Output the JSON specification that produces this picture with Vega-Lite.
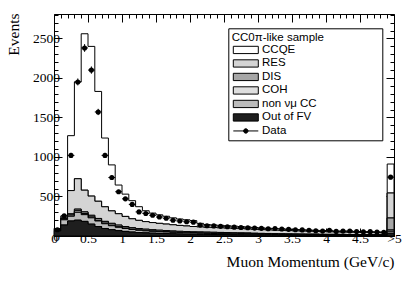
{
  "$schema": "https://vega.github.io/schema/vega-lite/v6.json",
  "width": 340,
  "height": 222,
  "autosize": {"type": "none"},
  "padding": {"left": 54, "top": 14, "right": 21, "bottom": 45},
  "background": "white",
  "config": {
    "view": {"stroke": "black", "strokeWidth": 1},
    "style": {"guide-label": {"font": "Liberation Serif", "fontSize": 13.5, "fill": "black"}},
    "axis": {
      "domain": false, "grid": false, "tickColor": "black", "tickWidth": 1,
      "titleFont": "Liberation Serif", "titleFontWeight": "normal", "titleColor": "black", "titleFontSize": 15.5,
      "labelFlush": false, "labelOverlap": false, "zindex": 1
    },
    "legend": {
      "orient": "none", "legendX": 174.3, "legendY": 14.3, "padding": 3.4,
      "strokeColor": "black", "fillColor": "white",
      "titleFont": "Liberation Sans", "titleFontSize": 11.5, "titleFontWeight": "normal", "titleColor": "black", "titlePadding": 1, "titleLimit": 400,
      "labelFont": "Liberation Sans", "labelFontSize": 11.5, "labelColor": "black",
      "symbolSize": 49, "symbolOffset": 8.35, "labelOffset": 10.5, "rowPadding": 0.5,
      "symbolStrokeColor": "black", "symbolStrokeWidth": 1, "symbolOpacity": 1
    }
  },
  "datasets": {
    "mc": [
      {"p": 0.0, "CCQE": 13, "RES": 5, "DIS": 2, "COH": 0, "non νμ CC": 10, "Out of FV": 65},
      {"p": 0.1, "CCQE": 25, "RES": 8, "DIS": 10, "COH": 5, "non νμ CC": 66, "Out of FV": 139},
      {"p": 0.2, "CCQE": 695, "RES": 295, "DIS": 15, "COH": 15, "non νμ CC": 60, "Out of FV": 190},
      {"p": 0.3, "CCQE": 1225, "RES": 385, "DIS": 20, "COH": 20, "non νμ CC": 100, "Out of FV": 200},
      {"p": 0.4, "CCQE": 1980, "RES": 275, "DIS": 20, "COH": 15, "non νμ CC": 85, "Out of FV": 185},
      {"p": 0.5, "CCQE": 1895, "RES": 243, "DIS": 22, "COH": 10, "non νμ CC": 80, "Out of FV": 150},
      {"p": 0.6, "CCQE": 1390, "RES": 218, "DIS": 24, "COH": 8, "non νμ CC": 70, "Out of FV": 120},
      {"p": 0.7, "CCQE": 870, "RES": 185, "DIS": 23, "COH": 7, "non νμ CC": 60, "Out of FV": 95},
      {"p": 0.8, "CCQE": 582, "RES": 158, "DIS": 24, "COH": 6, "non νμ CC": 50, "Out of FV": 80},
      {"p": 0.9, "CCQE": 363, "RES": 144, "DIS": 23, "COH": 5, "non νμ CC": 42, "Out of FV": 68},
      {"p": 1.0, "CCQE": 282, "RES": 128, "DIS": 21, "COH": 4, "non νμ CC": 37, "Out of FV": 58},
      {"p": 1.1, "CCQE": 229, "RES": 113, "DIS": 19, "COH": 4, "non νμ CC": 32, "Out of FV": 50},
      {"p": 1.2, "CCQE": 173, "RES": 104, "DIS": 19, "COH": 3, "non νμ CC": 28, "Out of FV": 44},
      {"p": 1.3, "CCQE": 138, "RES": 96, "DIS": 18, "COH": 3, "non νμ CC": 25, "Out of FV": 40},
      {"p": 1.4, "CCQE": 120, "RES": 91, "DIS": 17, "COH": 3, "non νμ CC": 23, "Out of FV": 36},
      {"p": 1.5, "CCQE": 108, "RES": 87, "DIS": 16, "COH": 3, "non νμ CC": 21, "Out of FV": 33},
      {"p": 1.6, "CCQE": 99, "RES": 83, "DIS": 16, "COH": 2, "non νμ CC": 20, "Out of FV": 30},
      {"p": 1.7, "CCQE": 88, "RES": 79, "DIS": 15, "COH": 2, "non νμ CC": 18, "Out of FV": 28},
      {"p": 1.8, "CCQE": 81, "RES": 75, "DIS": 14, "COH": 2, "non νμ CC": 17, "Out of FV": 26},
      {"p": 1.9, "CCQE": 78, "RES": 71, "DIS": 14, "COH": 2, "non νμ CC": 16, "Out of FV": 24},
      {"p": 2.0, "CCQE": 75, "RES": 67, "DIS": 14, "COH": 2, "non νμ CC": 15, "Out of FV": 22},
      {"p": 2.1, "CCQE": 45, "RES": 64, "DIS": 14, "COH": 2, "non νμ CC": 14, "Out of FV": 21},
      {"p": 2.2, "CCQE": 35, "RES": 61, "DIS": 14, "COH": 2, "non νμ CC": 13, "Out of FV": 20},
      {"p": 2.3, "CCQE": 33, "RES": 60, "DIS": 13, "COH": 2, "non νμ CC": 13, "Out of FV": 19},
      {"p": 2.4, "CCQE": 32, "RES": 58, "DIS": 13, "COH": 2, "non νμ CC": 12, "Out of FV": 18},
      {"p": 2.5, "CCQE": 30, "RES": 56, "DIS": 13, "COH": 2, "non νμ CC": 12, "Out of FV": 17},
      {"p": 2.6, "CCQE": 29, "RES": 55, "DIS": 12, "COH": 2, "non νμ CC": 11, "Out of FV": 16},
      {"p": 2.7, "CCQE": 27, "RES": 53, "DIS": 12, "COH": 2, "non νμ CC": 11, "Out of FV": 15},
      {"p": 2.8, "CCQE": 25, "RES": 51, "DIS": 12, "COH": 2, "non νμ CC": 10, "Out of FV": 14},
      {"p": 2.9, "CCQE": 24, "RES": 49, "DIS": 11, "COH": 1, "non νμ CC": 10, "Out of FV": 13},
      {"p": 3.0, "CCQE": 23, "RES": 47, "DIS": 11, "COH": 1, "non νμ CC": 9, "Out of FV": 12},
      {"p": 3.1, "CCQE": 21, "RES": 45, "DIS": 11, "COH": 1, "non νμ CC": 9, "Out of FV": 11},
      {"p": 3.2, "CCQE": 20, "RES": 44, "DIS": 10, "COH": 1, "non νμ CC": 8, "Out of FV": 11},
      {"p": 3.3, "CCQE": 19, "RES": 42, "DIS": 10, "COH": 1, "non νμ CC": 8, "Out of FV": 10},
      {"p": 3.4, "CCQE": 18, "RES": 40, "DIS": 10, "COH": 1, "non νμ CC": 7, "Out of FV": 10},
      {"p": 3.5, "CCQE": 17, "RES": 39, "DIS": 9, "COH": 1, "non νμ CC": 7, "Out of FV": 9},
      {"p": 3.6, "CCQE": 16, "RES": 37, "DIS": 9, "COH": 1, "non νμ CC": 6, "Out of FV": 9},
      {"p": 3.7, "CCQE": 15, "RES": 36, "DIS": 9, "COH": 1, "non νμ CC": 6, "Out of FV": 8},
      {"p": 3.8, "CCQE": 14, "RES": 34, "DIS": 9, "COH": 1, "non νμ CC": 6, "Out of FV": 8},
      {"p": 3.9, "CCQE": 14, "RES": 34, "DIS": 8, "COH": 1, "non νμ CC": 5, "Out of FV": 7},
      {"p": 4.0, "CCQE": 13, "RES": 32, "DIS": 8, "COH": 1, "non νμ CC": 5, "Out of FV": 7},
      {"p": 4.1, "CCQE": 12, "RES": 30, "DIS": 8, "COH": 1, "non νμ CC": 5, "Out of FV": 7},
      {"p": 4.2, "CCQE": 12, "RES": 29, "DIS": 8, "COH": 1, "non νμ CC": 5, "Out of FV": 6},
      {"p": 4.3, "CCQE": 12, "RES": 29, "DIS": 7, "COH": 1, "non νμ CC": 4, "Out of FV": 6},
      {"p": 4.4, "CCQE": 11, "RES": 28, "DIS": 7, "COH": 1, "non νμ CC": 4, "Out of FV": 6},
      {"p": 4.5, "CCQE": 10, "RES": 27, "DIS": 7, "COH": 1, "non νμ CC": 4, "Out of FV": 6},
      {"p": 4.6, "CCQE": 10, "RES": 26, "DIS": 7, "COH": 1, "non νμ CC": 4, "Out of FV": 5},
      {"p": 4.7, "CCQE": 9, "RES": 25, "DIS": 7, "COH": 1, "non νμ CC": 4, "Out of FV": 5},
      {"p": 4.8, "CCQE": 9, "RES": 24, "DIS": 6, "COH": 1, "non νμ CC": 4, "Out of FV": 5},
      {"p": 4.9, "CCQE": 367, "RES": 316, "DIS": 152, "COH": 16, "non νμ CC": 25, "Out of FV": 35},
      {"p": 5.0, "CCQE": 367, "RES": 316, "DIS": 152, "COH": 16, "non νμ CC": 25, "Out of FV": 35}
    ],
    "obs": [
      {"p": 0.05, "lo": 0.0, "hi": 0.1, "n": 80, "err": 9},
      {"p": 0.15, "lo": 0.1, "hi": 0.2, "n": 255, "err": 16},
      {"p": 0.25, "lo": 0.2, "hi": 0.3, "n": 1020, "err": 32},
      {"p": 0.35, "lo": 0.3, "hi": 0.4, "n": 1950, "err": 44},
      {"p": 0.45, "lo": 0.4, "hi": 0.5, "n": 2380, "err": 49},
      {"p": 0.55, "lo": 0.5, "hi": 0.6, "n": 2100, "err": 46},
      {"p": 0.65, "lo": 0.6, "hi": 0.7, "n": 1570, "err": 40},
      {"p": 0.75, "lo": 0.7, "hi": 0.8, "n": 1020, "err": 32},
      {"p": 0.85, "lo": 0.8, "hi": 0.9, "n": 740, "err": 27},
      {"p": 0.95, "lo": 0.9, "hi": 1.0, "n": 560, "err": 24},
      {"p": 1.05, "lo": 1.0, "hi": 1.1, "n": 470, "err": 22},
      {"p": 1.15, "lo": 1.1, "hi": 1.2, "n": 400, "err": 20},
      {"p": 1.25, "lo": 1.2, "hi": 1.3, "n": 305, "err": 17},
      {"p": 1.35, "lo": 1.3, "hi": 1.4, "n": 285, "err": 17},
      {"p": 1.45, "lo": 1.4, "hi": 1.5, "n": 262, "err": 16},
      {"p": 1.55, "lo": 1.5, "hi": 1.6, "n": 240, "err": 15},
      {"p": 1.65, "lo": 1.6, "hi": 1.7, "n": 225, "err": 15},
      {"p": 1.75, "lo": 1.7, "hi": 1.8, "n": 200, "err": 14},
      {"p": 1.85, "lo": 1.8, "hi": 1.9, "n": 190, "err": 14},
      {"p": 1.95, "lo": 1.9, "hi": 2.0, "n": 180, "err": 13},
      {"p": 2.05, "lo": 2.0, "hi": 2.1, "n": 175, "err": 13},
      {"p": 2.15, "lo": 2.1, "hi": 2.2, "n": 138, "err": 12},
      {"p": 2.25, "lo": 2.2, "hi": 2.3, "n": 130, "err": 11},
      {"p": 2.35, "lo": 2.3, "hi": 2.4, "n": 128, "err": 11},
      {"p": 2.45, "lo": 2.4, "hi": 2.5, "n": 122, "err": 11},
      {"p": 2.55, "lo": 2.5, "hi": 2.6, "n": 118, "err": 11},
      {"p": 2.65, "lo": 2.6, "hi": 2.7, "n": 112, "err": 11},
      {"p": 2.75, "lo": 2.7, "hi": 2.8, "n": 108, "err": 10},
      {"p": 2.85, "lo": 2.8, "hi": 2.9, "n": 104, "err": 10},
      {"p": 2.95, "lo": 2.9, "hi": 3.0, "n": 100, "err": 10},
      {"p": 3.05, "lo": 3.0, "hi": 3.1, "n": 97, "err": 10},
      {"p": 3.15, "lo": 3.1, "hi": 3.2, "n": 92, "err": 10},
      {"p": 3.25, "lo": 3.2, "hi": 3.3, "n": 95, "err": 10},
      {"p": 3.35, "lo": 3.3, "hi": 3.4, "n": 88, "err": 9},
      {"p": 3.45, "lo": 3.4, "hi": 3.5, "n": 84, "err": 9},
      {"p": 3.55, "lo": 3.5, "hi": 3.6, "n": 80, "err": 9},
      {"p": 3.65, "lo": 3.6, "hi": 3.7, "n": 77, "err": 9},
      {"p": 3.75, "lo": 3.7, "hi": 3.8, "n": 72, "err": 8},
      {"p": 3.85, "lo": 3.8, "hi": 3.9, "n": 66, "err": 8},
      {"p": 3.95, "lo": 3.9, "hi": 4.0, "n": 62, "err": 8},
      {"p": 4.05, "lo": 4.0, "hi": 4.1, "n": 72, "err": 8},
      {"p": 4.15, "lo": 4.1, "hi": 4.2, "n": 58, "err": 8},
      {"p": 4.25, "lo": 4.2, "hi": 4.3, "n": 62, "err": 8},
      {"p": 4.35, "lo": 4.3, "hi": 4.4, "n": 64, "err": 8},
      {"p": 4.45, "lo": 4.4, "hi": 4.5, "n": 57, "err": 8},
      {"p": 4.55, "lo": 4.5, "hi": 4.6, "n": 52, "err": 7},
      {"p": 4.65, "lo": 4.6, "hi": 4.7, "n": 55, "err": 7},
      {"p": 4.75, "lo": 4.7, "hi": 4.8, "n": 50, "err": 7},
      {"p": 4.85, "lo": 4.8, "hi": 4.9, "n": 48, "err": 7},
      {"p": 4.95, "lo": 4.9, "hi": 5.0, "n": 745, "err": 27}
    ]
  },
  "layer": [
    {
      "data": {"name": "mc"},
      "transform": [
        {"fold": ["CCQE", "RES", "DIS", "COH", "non νμ CC", "Out of FV"], "as": ["comp", "count"]},
        {"calculate": "indexof(['Out of FV','non νμ CC','COH','DIS','RES','CCQE'], datum.comp)", "as": "ord"}
      ],
      "mark": {"type": "area", "interpolate": "step-after", "stroke": "black", "strokeWidth": 1},
      "encoding": {
        "x": {"field": "p", "type": "quantitative",
          "scale": {"domain": [0, 5], "nice": false, "zero": false},
          "axis": {"orient": "bottom", "values": [0, 0.5, 1, 1.5, 2, 2.5, 3, 3.5, 4, 4.5, 5], "tickSize": -8, "labelPadding": 3,
            "labelFont": "Liberation Serif", "labelFontSize": 13.5, "labelColor": "black",
            "labelExpr": "datum.value === 5 ? '>5' : format(datum.value, '~g')",
            "title": "Muon Momentum (GeV/c)", "titleFont": "Liberation Serif", "titleFontSize": 15.5, "titleFontWeight": "normal",
            "titleX": 340, "titleY": 30, "titleAlign": "right", "titleBaseline": "alphabetic"}},
        "y": {"field": "count", "type": "quantitative", "stack": "zero",
          "scale": {"domain": [0, 2810], "nice": false, "zero": false},
          "axis": {"orient": "left", "values": [0, 500, 1000, 1500, 2000, 2500], "tickSize": -8, "labelPadding": 2.5, "format": "d",
            "labelFont": "Liberation Serif", "labelFontSize": 13.5, "labelColor": "black",
            "title": "Events", "titleFont": "Liberation Serif", "titleFontWeight": "normal",
            "titleX": -41, "titleY": -1, "titleAlign": "right", "titleAngle": -90, "titleBaseline": "middle", "titleFontSize": 15.5}},
        "fill": {"field": "comp", "type": "nominal",
          "scale": {"domain": ["CCQE", "RES", "DIS", "COH", "non νμ CC", "Out of FV", "Data"],
            "range": ["#ffffff", "#d4d4d4", "#a6a6a6", "#dedede", "#bbbbbb", "#1e1e1e", "#000000"]},
          "legend": {
            "title": "CC0π-like sample\u2800\u2800\u2800\u2800\u2800\u2800",
            "labelFont": "Liberation Sans", "labelFontSize": 11.5,
            "symbolType": "M-3.571,-1.04H3.571V1.04H-3.571Z",
            "encode": {"symbols": {"update": {"shape": {"signal": "datum.value === 'Data' ? 'M-3.571,0H3.571M-0.63,0A0.63,0.63,0,1,1,0.63,0A0.63,0.63,0,1,1,-0.63,0Z' : 'M-3.571,-1.04H3.571V1.04H-3.571Z'"}}}}
          }},
        "order": {"field": "ord", "type": "quantitative"}
      }
    },
    {
      "data": {"name": "obs"},
      "transform": [
        {"calculate": "datum.n - datum.err", "as": "ylo"},
        {"calculate": "datum.n + datum.err", "as": "yhi"}
      ],
      "mark": {"type": "rule", "color": "black", "strokeWidth": 1},
      "encoding": {
        "x": {"field": "p", "type": "quantitative", "scale": {"domain": [0, 5], "nice": false, "zero": false},
          "axis": {"orient": "bottom", "values": [0.1,0.2,0.3,0.4,0.6,0.7,0.8,0.9,1.1,1.2,1.3,1.4,1.6,1.7,1.8,1.9,2.1,2.2,2.3,2.4,2.6,2.7,2.8,2.9,3.1,3.2,3.3,3.4,3.6,3.7,3.8,3.9,4.1,4.2,4.3,4.4,4.6,4.7,4.8,4.9], "tickSize": -4, "labels": false, "title": null}},
        "y": {"field": "ylo", "type": "quantitative", "scale": {"domain": [0, 2810], "nice": false, "zero": false},
          "axis": {"orient": "left", "values": [100,200,300,400,600,700,800,900,1100,1200,1300,1400,1600,1700,1800,1900,2100,2200,2300,2400,2600,2700,2800], "tickSize": -4, "labels": false, "title": null}},
        "y2": {"field": "yhi"}
      }
    },
    {
      "data": {"name": "obs"},
      "mark": {"type": "rule", "color": "black", "strokeWidth": 1},
      "encoding": {
        "x": {"field": "lo", "type": "quantitative", "scale": {"domain": [0, 5], "nice": false, "zero": false},
          "axis": {"orient": "top", "values": [0, 0.5, 1, 1.5, 2, 2.5, 3, 3.5, 4, 4.5, 5], "tickSize": -8, "labels": false, "title": null}},
        "x2": {"field": "hi"},
        "y": {"field": "n", "type": "quantitative", "scale": {"domain": [0, 2810], "nice": false, "zero": false},
          "axis": {"orient": "right", "values": [0, 500, 1000, 1500, 2000, 2500], "tickSize": -8, "labels": false, "title": null}}
      }
    },
    {
      "data": {"name": "obs"},
      "mark": {"type": "point", "shape": "circle", "filled": true, "color": "black", "size": 26, "opacity": 1},
      "encoding": {
        "x": {"field": "p", "type": "quantitative", "scale": {"domain": [0, 5], "nice": false, "zero": false},
          "axis": {"orient": "top", "values": [0.1,0.2,0.3,0.4,0.6,0.7,0.8,0.9,1.1,1.2,1.3,1.4,1.6,1.7,1.8,1.9,2.1,2.2,2.3,2.4,2.6,2.7,2.8,2.9,3.1,3.2,3.3,3.4,3.6,3.7,3.8,3.9,4.1,4.2,4.3,4.4,4.6,4.7,4.8,4.9], "tickSize": -4, "labels": false, "title": null}},
        "y": {"field": "n", "type": "quantitative", "scale": {"domain": [0, 2810], "nice": false, "zero": false},
          "axis": {"orient": "right", "values": [100,200,300,400,600,700,800,900,1100,1200,1300,1400,1600,1700,1800,1900,2100,2200,2300,2400,2600,2700,2800], "tickSize": -4, "labels": false, "title": null}}
      }
    }
  ],
  "resolve": {"axis": {"x": "independent", "y": "independent"}}
}
